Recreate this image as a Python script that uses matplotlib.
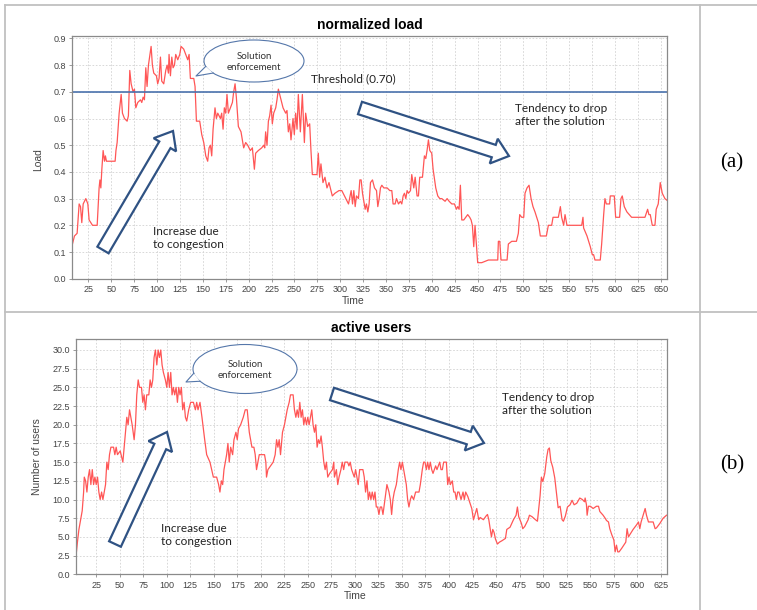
import matplotlib
matplotlib.use("Agg")
import matplotlib.pyplot as plt
import matplotlib.transforms as mtransforms
from matplotlib.patches import Ellipse, Polygon, FancyArrow
from matplotlib.lines import Line2D
import numpy as np

# normalized load (top chart)
load_time = [7.5, 9.7, 12.6, 14.8, 16.3, 17.7, 19.2, 22.1, 24.3, 25.7, 29.4, 34.5, 36.6, 37.5, 38.5,
             39.6, 41.0, 42.5, 43.5, 44.6, 54.1, 55.0, 56.3, 58.5, 60.7, 62.1, 64.3, 67.2, 68.6, 70.1,
             71.6, 73.7, 75.2, 76.7, 78.8, 81.8, 83.2, 84.7, 86.1, 87.6, 89.0, 90.5, 93.4, 94.8, 96.3,
             99.2, 100.6, 102.1, 103.6, 105.0, 107.2, 109.4, 110.9, 112.3, 113.0, 114.5, 116.0, 117.4,
             118.9, 120.3, 122.5, 124.7, 126.1, 129.0, 131.2, 133.4, 134.9, 136.3, 140.0, 141.4, 142.9,
             146.5, 148.7, 150.9, 153.1, 155.2, 156.7, 158.2, 159.6, 161.1, 163.2, 164.7, 166.2, 169.1,
             170.5, 172.0, 173.4, 174.9, 176.3, 177.8, 180.0, 182.2, 183.6, 185.1, 186.5, 188.7, 191.6,
             194.5, 196.7, 198.9, 201.8, 204.0, 206.2, 207.6, 210.5, 214.2, 216.4, 217.5, 218.5, 220.0,
             221.5, 222.9, 224.4, 225.8, 227.3, 229.5, 230.9, 232.4, 234.6, 237.5, 240.4, 241.8, 243.3,
             244.8, 246.2, 248.4, 249.8, 251.3, 252.8, 254.2, 256.4, 258.6, 260.8, 262.2, 264.4, 266.6,
             268.0, 269.5, 274.6, 276.0, 277.5, 278.9, 281.1, 283.3, 285.5, 287.7, 291.3, 294.2, 298.6,
             301.7, 306.1, 309.0, 311.9, 313.4, 314.8, 316.3, 317.7, 319.9, 321.4, 322.8, 324.3, 325.7,
             327.2, 328.6, 330.1, 331.5, 333.0, 335.2, 337.4, 339.6, 341.0, 342.5, 343.9, 345.4, 347.6,
             351.2, 354.1, 356.3, 357.7, 359.9, 361.4, 363.6, 365.7, 367.2, 368.7, 370.1, 371.6, 373.0,
             374.5, 376.7, 378.1, 380.3, 381.8, 383.9, 385.4, 386.8, 389.8, 391.9, 393.4, 394.8, 396.3,
             397.8, 399.9, 401.4, 404.3, 406.5, 408.7, 410.9, 414.5, 416.7, 418.9, 421.8, 424.7, 426.9,
             428.3, 429.8, 431.2, 432.7, 434.9, 437.1, 439.2, 441.4, 442.9, 444.3, 445.8, 447.2, 448.7,
             450.1, 454.5, 458.1, 461.8, 472.0, 472.7, 474.2, 475.6, 482.2, 483.6, 487.3, 492.4, 494.5,
             496.0, 498.2, 500.4, 501.8, 504.0, 506.2, 508.4, 510.5, 512.7, 516.4, 518.5, 522.2, 525.1,
             527.3, 530.9, 532.4, 538.2, 540.4, 541.8, 544.0, 545.5, 547.6, 552.7, 560.0, 563.7, 565.1,
             565.8, 569.5, 573.1, 575.3, 576.7, 578.2, 584.0, 585.5, 587.7, 589.1, 590.6, 594.2, 594.9,
             599.3, 600.8, 605.1, 606.6, 608.0, 610.2, 613.1, 618.2, 625.5, 632.8, 635.7, 637.1, 638.6,
             640.8, 643.7, 645.1, 647.3, 649.5, 651.7, 654.6, 658.2]
load = [0.13, 0.16, 0.17, 0.28, 0.27, 0.21, 0.28, 0.30, 0.28, 0.22, 0.20, 0.20, 0.34, 0.37, 0.34,
        0.41, 0.48, 0.44, 0.46, 0.44, 0.44, 0.48, 0.51, 0.62, 0.69, 0.62, 0.60, 0.59, 0.61, 0.78,
        0.73, 0.70, 0.71, 0.64, 0.66, 0.67, 0.66, 0.68, 0.67, 0.79, 0.72, 0.80, 0.87, 0.80, 0.77,
        0.76, 0.73, 0.75, 0.83, 0.74, 0.73, 0.78, 0.80, 0.77, 0.84, 0.76, 0.83, 0.79,
        0.80, 0.84, 0.82, 0.84, 0.87, 0.86, 0.84, 0.82, 0.84, 0.75, 0.75, 0.72, 0.59,
        0.59, 0.54, 0.51, 0.46, 0.44, 0.49, 0.50, 0.46, 0.56, 0.64, 0.60, 0.62, 0.60,
        0.62, 0.56, 0.64, 0.62, 0.69, 0.62, 0.64, 0.66, 0.70, 0.73, 0.68, 0.57, 0.55,
        0.49, 0.51, 0.50, 0.48, 0.49, 0.41, 0.47, 0.48, 0.49, 0.50, 0.49, 0.55, 0.50,
        0.59, 0.61, 0.65, 0.58, 0.62, 0.64, 0.67, 0.71, 0.68, 0.64, 0.62, 0.63, 0.55,
        0.58, 0.52, 0.60, 0.54, 0.62, 0.56, 0.69, 0.55, 0.69, 0.51, 0.62, 0.57, 0.58,
        0.48, 0.39, 0.39, 0.47, 0.38, 0.43, 0.36, 0.38, 0.34, 0.36, 0.31, 0.32, 0.33,
        0.33, 0.30, 0.28, 0.33, 0.28, 0.33, 0.27, 0.31, 0.30, 0.37, 0.37, 0.32, 0.29,
        0.26, 0.28, 0.25, 0.28, 0.36, 0.37, 0.34, 0.33, 0.27, 0.30, 0.34, 0.35, 0.34,
        0.34, 0.33, 0.33, 0.28, 0.28, 0.30, 0.28, 0.29, 0.28, 0.31, 0.32, 0.30, 0.33,
        0.32, 0.33, 0.39, 0.34, 0.38, 0.31, 0.31, 0.38, 0.38, 0.46, 0.45, 0.48, 0.52,
        0.48, 0.47, 0.41, 0.34, 0.31, 0.30, 0.30, 0.29, 0.30, 0.29, 0.28, 0.28, 0.26,
        0.27, 0.26, 0.35, 0.22, 0.22, 0.23, 0.24, 0.23, 0.22, 0.20, 0.12, 0.20, 0.13,
        0.06, 0.06, 0.065, 0.07, 0.07, 0.14, 0.14, 0.07, 0.07, 0.13, 0.14, 0.14, 0.17,
        0.24, 0.23, 0.23, 0.32, 0.34, 0.35, 0.30, 0.27, 0.25, 0.21, 0.16, 0.16, 0.16,
        0.20, 0.20, 0.23, 0.23, 0.27, 0.23, 0.20, 0.24, 0.20, 0.20, 0.20, 0.20, 0.23,
        0.19, 0.16, 0.12, 0.09, 0.09, 0.07, 0.07, 0.13, 0.24, 0.30, 0.28, 0.28, 0.31,
        0.31, 0.23, 0.23, 0.30, 0.31, 0.27, 0.25, 0.23, 0.23, 0.23, 0.26, 0.24, 0.24,
        0.20, 0.20, 0.26, 0.28, 0.36, 0.32, 0.30, 0.29]
threshold = 0.70

# active users (bottom chart)
users_time = [3.8, 5.2, 6.6, 8.0, 10.1, 11.6, 12.3, 13.7, 15.1, 16.5, 17.9, 19.3, 20.8, 22.2, 23.6,
              25.0, 26.4, 27.8, 29.2, 30.7, 32.1, 33.5, 34.9, 36.3, 37.7, 39.1, 40.6, 43.4, 44.8, 46.2,
              47.6, 50.5, 53.3, 54.7, 56.1, 57.5, 58.9, 60.4, 61.8, 63.2, 65.3, 66.7, 68.1, 69.6, 71.0,
              73.1, 74.5, 75.9, 77.3, 78.7, 80.9, 82.3, 83.7, 85.1, 86.5, 87.9, 89.4, 90.8, 92.2, 93.6,
              95.0, 96.4, 98.5, 100.0, 101.4, 102.8, 104.2, 105.6, 107.0, 108.4, 109.9, 111.3, 112.7,
              114.1, 115.5, 116.9, 118.4, 119.8, 121.2, 123.3, 125.4, 128.3, 130.4, 131.8, 133.2, 135.3,
              137.4, 140.3, 142.4, 145.9, 149.5, 153.0, 155.1, 156.5, 158.0, 159.4, 160.8, 163.6, 165.0,
              166.4, 167.9, 170.0, 171.4, 173.5, 174.9, 176.3, 178.5, 181.3, 183.4, 185.5, 187.7, 190.5,
              192.6, 194.0, 195.4, 196.9, 198.3, 201.1, 203.9, 205.3, 206.0, 207.5, 210.3, 213.1, 215.2,
              216.7, 218.1, 219.5, 220.9, 223.0, 225.1, 226.6, 228.0, 230.1, 231.5, 234.3, 235.7, 237.2,
              238.6, 240.0, 241.4, 242.8, 244.2, 245.6, 247.1, 248.5, 249.9, 251.3, 252.7, 254.1, 255.5,
              257.0, 258.4, 259.8, 261.2, 262.6, 264.0, 265.4, 266.9, 268.3, 269.7, 271.1, 273.2, 276.1,
              277.5, 278.2, 280.3, 281.7, 283.1, 285.1, 286.5, 288.0, 289.4, 292.2, 293.6, 295.0, 296.5,
              297.9, 299.3, 300.7, 302.1, 303.5, 305.0, 308.5, 309.9, 311.3, 312.8, 314.2, 315.6, 317.0,
              318.4, 319.9, 321.3, 322.7, 324.1, 325.5, 326.9, 328.4, 329.8, 331.9, 334.0, 336.2, 337.6,
              339.0, 340.4, 341.8, 344.0, 346.1, 347.5, 348.9, 350.4, 351.8, 353.2, 354.6, 356.0, 357.4,
              358.9, 360.3, 362.4, 364.5, 368.1, 369.5, 371.6, 373.0, 374.5, 375.9, 377.3, 378.7, 380.1,
              381.6, 383.0, 384.4, 385.8, 387.2, 388.7, 390.1, 391.5, 392.9, 394.3, 397.2, 398.6, 400.0,
              401.4, 403.5, 405.0, 406.4, 407.8, 409.2, 410.6, 412.8, 414.9, 416.3, 417.7, 420.0, 424.2,
              426.0, 429.5, 431.6, 433.1, 436.6, 439.4, 440.9, 442.3, 445.1, 446.5, 447.9, 449.4, 451.5,
              453.6, 456.4, 460.0, 461.4, 464.9, 468.5, 471.3, 472.7, 474.1, 477.0, 478.4, 480.5, 484.1,
              485.5, 488.3, 491.9, 494.0, 496.8, 498.2, 499.7, 501.8, 503.9, 505.3, 506.7, 508.2, 510.3,
              512.4, 514.5, 516.0, 518.1, 520.2, 521.6, 523.7, 525.9, 528.7, 530.8, 533.0, 535.8, 539.0,
              541.8, 544.0, 544.7, 546.1, 546.8, 548.2, 550.3, 553.2, 556.7, 558.9, 560.3, 563.8, 566.0,
              567.4, 569.5, 570.9, 573.0, 575.2, 576.6, 578.0, 579.4, 580.8, 583.7, 585.8, 587.9, 589.3,
              590.8, 592.2, 595.7, 599.3, 601.4, 602.8, 604.2, 606.4, 608.5, 609.9, 612.0, 614.2, 617.0,
              619.1, 620.5, 624.1, 627.6, 631.2]
users = [2.8, 4.5, 6.0, 7.0, 8.5, 11, 13, 12.5, 11, 13, 14, 12, 14, 12, 13,
         12, 13, 11, 10, 11, 10, 11, 12, 15, 14, 16, 17, 17, 16, 17,
         16, 16.5, 15, 17, 19, 21, 20, 22, 21, 20, 18, 20, 24, 26, 25,
         25, 23, 24, 22, 24, 24, 26, 25, 26, 29, 30, 28, 30, 29, 30,
         28, 27, 26, 25, 27, 25, 27, 24, 25, 24, 25, 23, 25,
         24, 25, 22, 23, 21, 20.5, 22, 23, 23, 22, 23, 22, 23,
         21, 18, 16, 15, 13, 13, 12, 11, 12.5, 12, 14, 16, 17.5,
         15, 17, 16, 18, 19, 18, 19.5, 20, 21, 22, 22, 19, 17,
         17, 16, 14, 15, 16, 16, 16, 15, 13, 14, 14.5, 15, 16,
         18, 17, 18, 16, 19, 20, 21, 22, 23, 24, 24, 22, 21,
         22, 21, 23, 21, 22, 20, 21, 20, 21, 20, 21, 22, 20,
         19, 20, 17, 18, 17.5, 18.5, 17, 15, 14, 15, 13, 13.5, 14,
         15, 13, 14, 12, 13, 14, 15, 14, 15, 15, 14.5, 15, 14,
         13.5, 13, 14, 13, 12, 14, 14, 13, 11, 12.5, 10, 11, 10,
         11, 10, 11, 9, 9, 8, 9, 9, 8, 10, 12, 11, 10,
         8, 10, 11, 12, 14, 15, 14, 15, 14, 13, 12, 10, 9,
         10, 10.5, 10, 11, 11, 12, 14, 15, 15, 14, 15, 14, 15,
         14, 13.5, 14, 14.5, 14, 14.5, 15, 14, 14, 15, 15, 12, 13,
         12, 12.5, 11, 11, 10, 11, 11, 10, 11, 10, 11, 10.4, 8.8,
         7.3, 8.8, 7.3, 7.6, 7.3, 7.8, 8.0, 7.3, 5.0, 6.0, 5.6, 4.7, 4.05,
         4.3, 4.5, 4.8, 6.0, 6.3, 7.3, 7.9, 9.0, 7.7, 6.8, 6.1, 6.4, 7.3,
         7.9, 7.7, 7.3, 7.1, 10.5, 13.0, 12.4, 13.5, 15.7, 16.7, 16.9, 15.2, 14.3,
         12.9, 10.5, 8.9, 9.1, 7.3, 7.1, 7.8, 9.0, 9.3, 9.9, 9.3, 9.5, 10.2,
         10.0, 9.7, 10.2, 9.3, 7.9, 9.1, 9.1, 8.8, 9.1, 9.1, 8.4, 7.9, 7.5,
         7.2, 7.0, 6.1, 5.3, 4.6, 3.0, 3.9, 3.0, 3.0, 3.5, 3.9, 4.3, 6.1,
         5.0, 5.3, 6.0, 6.6, 7.0, 6.1, 7.0, 7.9, 8.8, 7.9, 7.0, 7.0, 7.0,
         6.1, 6.2, 6.8, 7.5, 7.9]

W, H = 757, 610
plt.rcParams['font.family'] = ['Liberation Sans', 'DejaVu Sans']

fig = plt.figure(figsize=(W / 100, H / 100), dpi=100)
# pixel coords measured from the top-left corner of the picture
px = mtransforms.Affine2D().scale(0.01, -0.01).translate(0, H / 100) + fig.dpi_scale_trans

LINE = '#ff5656'
BLUE = '#2f5283'
NOTE_FONT = ['Lato', 'DejaVu Sans']


def setup_axes(ax, title, ylabel, xmax, ymax, ystep, yfmt):
    ax.set_xlim(xmax[0], xmax[1])
    ax.set_ylim(0, ymax)
    ax.set_xticks(np.arange(25, xmax[1], 25))
    ax.set_yticks(np.arange(0, ymax, ystep))
    ax.yaxis.set_major_formatter(plt.FormatStrFormatter(yfmt))
    ax.grid(True, color='#d2d2d2', linestyle=(0, (2, 2)), linewidth=0.6)
    ax.set_axisbelow(True)
    for s in ax.spines.values():
        s.set_color('#8a8a8a')
        s.set_linewidth(0.9)
    ax.tick_params(direction='out', length=2, width=0.6, color='#8a8a8a',
                   labelsize=6.5, labelcolor='#444444', pad=2.5)
    ax.set_title(title, fontsize=10, fontweight='bold', pad=5)
    ax.set_xlabel('Time', fontsize=7.5, color='#444444')
    ax.set_ylabel(ylabel, fontsize=7.5, color='#444444')
    ax.xaxis.set_label_coords(0.472, -0.07)
    ax.xaxis.label.set_va('top')


def bubble(cx, cy, a, b, th1, th2, tip, label):
    fig.add_artist(Ellipse((cx, cy), 2 * a, 2 * b, transform=px, fc='white', ec='#5577aa', lw=0.8))
    p1 = (cx + a * np.cos(np.radians(th1)), cy + b * np.sin(np.radians(th1)))
    p2 = (cx + a * np.cos(np.radians(th2)), cy + b * np.sin(np.radians(th2)))
    fig.add_artist(Polygon([p1, tip, p2], closed=True, transform=px, fc='white', ec='none'))
    fig.add_artist(Line2D([p1[0], tip[0], p2[0]], [p1[1], tip[1], p2[1]], transform=px,
                          color='#5577aa', lw=0.8))
    fig.text(cx, cy + 1, label, transform=px, ha='center', va='center', fontsize=7,
             family=NOTE_FONT, color='#333333', linespacing=1.35)


def block_arrow(tail, tip):
    fig.add_artist(FancyArrow(tail[0], tail[1], tip[0] - tail[0], tip[1] - tail[1], width=13,
                              head_width=26, head_length=16, length_includes_head=True,
                              transform=px, fc='white', ec=BLUE, lw=1.6))


# top chart
ax1 = fig.add_axes([72 / W, 1 - 278.7 / H, 595.3 / W, 242.7 / H])
ax1.plot(load_time, load, color=LINE, lw=0.9)
ax1.axhline(threshold, color='#4a72ad', lw=1.2)
setup_axes(ax1, 'normalized load', 'Load', (7, 657.2), 0.909, 0.1, '%.1f')
ax1.yaxis.set_label_coords(-0.049, 0.489)

# bottom chart
ax2 = fig.add_axes([76 / W, 1 - 574.3 / H, 590.7 / W, 235 / H])
ax2.plot(users_time, users, color=LINE, lw=0.9)
setup_axes(ax2, 'active users', 'Number of users', (3.5, 631.4), 31.43, 2.5, '%.1f')
ax2.yaxis.set_label_coords(-0.058, 0.5)

# annotations, top
block_arrow((103, 250), (173, 131))
block_arrow((360, 108), (509, 156))
bubble(254, 61, 50, 21, 145, 165, (196, 76), 'Solution\nenforcement')
fig.text(153, 238, 'Increase due\nto congestion', transform=px, ha='left', va='center',
         fontsize=8.5, family=NOTE_FONT, color='#222222', linespacing=1.3)
fig.text(311, 79, 'Threshold (0.70)', transform=px, ha='left', va='center',
         fontsize=8.5, family=NOTE_FONT, color='#222222')
fig.text(515, 115, 'Tendency to drop\nafter the solution', transform=px, ha='left', va='center',
         fontsize=8.5, family=NOTE_FONT, color='#222222', linespacing=1.3)

# annotations, bottom
block_arrow((115, 544), (167, 432))
block_arrow((332, 394), (484, 443))
bubble(245, 369, 52, 24.5, 150, 170, (186, 382), 'Solution\nenforcement')
fig.text(161, 535, 'Increase due\nto congestion', transform=px, ha='left', va='center',
         fontsize=8.5, family=NOTE_FONT, color='#222222', linespacing=1.3)
fig.text(502, 404, 'Tendency to drop\nafter the solution', transform=px, ha='left', va='center',
         fontsize=8.5, family=NOTE_FONT, color='#222222', linespacing=1.3)

# table frame and panel labels
GRAY = '#c0c0c0'
for xs, ys in [([5, 5], [5, H]), ([699.5, 699.5], [5, H]), ([5, W], [5, 5]), ([5, W], [311.5, 311.5])]:
    fig.add_artist(Line2D(xs, ys, transform=px, color=GRAY, lw=1.3))
fig.text(732, 163, '(a)', transform=px, ha='center', va='center', fontsize=15, family='Liberation Serif')
fig.text(732, 465, '(b)', transform=px, ha='center', va='center', fontsize=15, family='Liberation Serif')

fig.savefig('out.png', dpi=100)
